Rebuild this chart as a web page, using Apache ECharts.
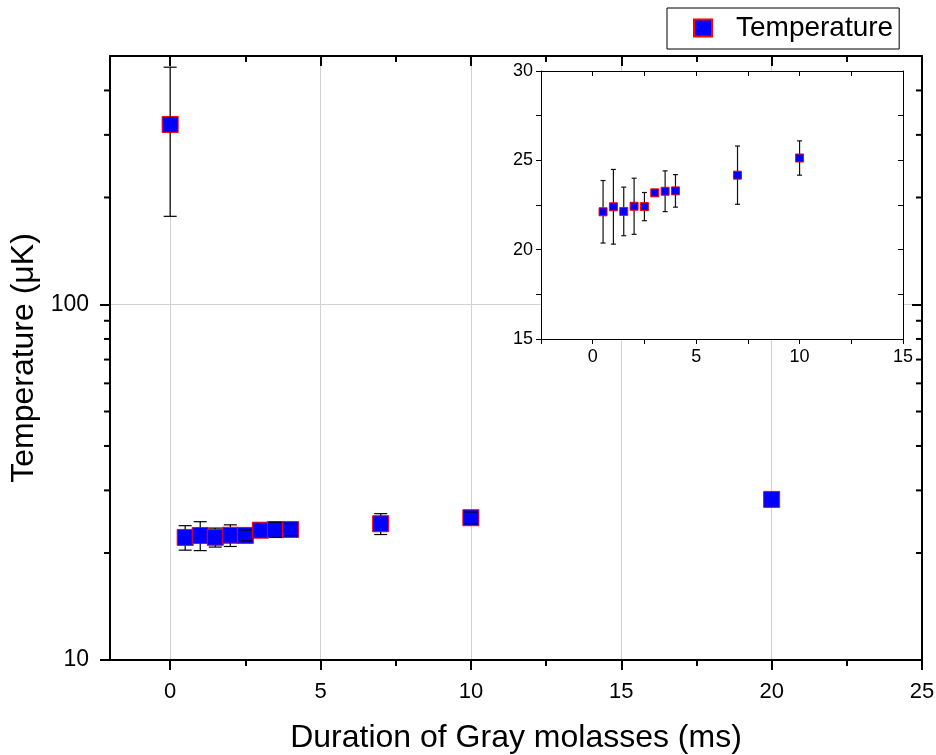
<!DOCTYPE html>
<html>
<head>
<meta charset="utf-8">
<script src="https://cdn.jsdelivr.net/npm/echarts@6/dist/echarts.min.js"></script>
<style>
  html, body { margin: 0; padding: 0; background: #fff; }
  #chart { width: 936px; height: 755px; }
</style>
</head>
<body>
<div id="chart"></div>
<script>
// ---- data ----
const DURATION_MS = [0, 0.5, 1, 1.5, 2, 2.5, 3, 3.5, 4, 7, 10, 20];
const TEMPERATURE_UK = [321, 22.12, 22.40, 22.14, 22.43, 22.41, 23.18, 23.27, 23.29, 24.17, 25.13, 28.3];
const TEMPERATURE_ERR = [144, 1.75, 2.09, 1.36, 1.57, 0.79, 0, 1.14, 0.91, 1.63, 0.96, 0];

// axis ranges and tick labels
const MAIN_X_RANGE = [-2, 25];
const MAIN_Y_RANGE = [10, 500];
const X_MAJOR_TICKS = [0, 5, 10, 15, 20, 25];
const X_MINOR_TICKS = [2.5, 7.5, 12.5, 17.5, 22.5];
const Y_MINOR_TICKS = [20, 30, 40, 50, 60, 70, 80, 90, 200, 300, 400];
const INSET_X_RANGE = [-2.5, 15];
const INSET_Y_RANGE = [15, 30];

const FONT = "'Liberation Sans', Arial, Helvetica, sans-serif";
const BLUE = '#0000ff';
const RED = '#ff0000';

const mainData = DURATION_MS.map((x, i) => [x, TEMPERATURE_UK[i], TEMPERATURE_ERR[i]]);
const insetData = mainData.filter(d => d[0] >= INSET_X_RANGE[0] && d[0] <= INSET_X_RANGE[1] &&
                                     d[1] >= INSET_Y_RANGE[0] && d[1] <= INSET_Y_RANGE[1]);

function errorBarRenderer(capHalf, markerHalf, color) {
  return function (params, api) {
    const x = api.value(0), y = api.value(1), e = api.value(2);
    if (!e) return { type: 'group', children: [] };
    const c = api.coord([x, y]);
    const hi = api.coord([x, y + e]);
    const lo = api.coord([x, y - e]);
    const style = { stroke: color, lineWidth: 1.2 };
    const children = [];
    if (hi[1] < c[1] - markerHalf) {
      children.push({ type: 'line', shape: { x1: c[0], y1: hi[1], x2: c[0], y2: c[1] - markerHalf }, style });
    }
    if (lo[1] > c[1] + markerHalf) {
      children.push({ type: 'line', shape: { x1: c[0], y1: c[1] + markerHalf, x2: c[0], y2: lo[1] }, style });
    }
    children.push({ type: 'line', shape: { x1: c[0] - capHalf, y1: hi[1], x2: c[0] + capHalf, y2: hi[1] }, style });
    children.push({ type: 'line', shape: { x1: c[0] - capHalf, y1: lo[1], x2: c[0] + capHalf, y2: lo[1] }, style });
    return { type: 'group', children };
  };
}

// minor ticks on log axis (left outward, right inward)
function logMinorTickRenderer(params, api) {
  const v = api.value(1);
  const pl = api.coord([MAIN_X_RANGE[0], v]);
  const pr = api.coord([MAIN_X_RANGE[1], v]);
  const style = { stroke: '#000', lineWidth: 2 };
  return {
    type: 'group',
    children: [
      { type: 'line', shape: { x1: pl[0] - 6, y1: pl[1], x2: pl[0], y2: pl[1] }, style },
      { type: 'line', shape: { x1: pr[0] - 6, y1: pr[1], x2: pr[0], y2: pr[1] }, style }
    ]
  };
}

const mainAxisLine = { show: true, onZero: false, lineStyle: { color: '#000', width: 2 } };
const insetAxisLine = { show: true, onZero: false, lineStyle: { color: '#000', width: 1 } };

const option = {
  animation: false,
  backgroundColor: '#fff',
  textStyle: { fontFamily: FONT, color: '#000' },
  legend: {
    data: ['Temperature'],
    left: 667, top: 8,
    borderColor: '#000', borderWidth: 1, borderRadius: 0,
    padding: [6, 6, 7, 26],
    itemWidth: 18, itemHeight: 17,
    icon: 'rect',
    textStyle: { fontSize: 28, fontFamily: FONT, color: '#000', padding: [0, 0, 0, 19] }
  },
  grid: [
    { left: 110, right: 14, top: 56, bottom: 95, containLabel: false, outerBoundsMode: 'none' },
    { left: 541, top: 71, width: 362, height: 268, show: true, backgroundColor: '#fff', borderWidth: 0, z: 3,
      containLabel: false, outerBoundsMode: 'none' }
  ],
  xAxis: [
    { // main bottom major
      gridIndex: 0, type: 'value', position: 'bottom', min: MAIN_X_RANGE[0], max: MAIN_X_RANGE[1],
      axisLine: mainAxisLine,
      axisTick: { show: true, customValues: X_MAJOR_TICKS, length: 10, lineStyle: { color: '#000', width: 2 } },
      axisLabel: { customValues: X_MAJOR_TICKS, fontSize: 22, margin: 21, color: '#000', fontFamily: FONT },
      splitLine: { show: true, lineStyle: { color: '#d0d0d0', width: 1 } },
      name: 'Duration of Gray molasses (ms)', nameLocation: 'middle', nameGap: 62,
      nameTextStyle: { fontSize: 32, fontFamily: FONT, color: '#000' }
    },
    { // main bottom minor
      gridIndex: 0, type: 'value', position: 'bottom', min: MAIN_X_RANGE[0], max: MAIN_X_RANGE[1],
      axisLine: { show: false },
      axisTick: { show: true, customValues: X_MINOR_TICKS, length: 6, lineStyle: { color: '#000', width: 2 } },
      axisLabel: { show: false }, splitLine: { show: false }
    },
    { // main top major
      gridIndex: 0, type: 'value', position: 'top', min: MAIN_X_RANGE[0], max: MAIN_X_RANGE[1],
      axisLine: mainAxisLine,
      axisTick: { show: true, inside: true, customValues: X_MAJOR_TICKS, length: 10, lineStyle: { color: '#000', width: 2 } },
      axisLabel: { show: false }, splitLine: { show: false }
    },
    { // main top minor
      gridIndex: 0, type: 'value', position: 'top', min: MAIN_X_RANGE[0], max: MAIN_X_RANGE[1],
      axisLine: { show: false },
      axisTick: { show: true, inside: true, customValues: X_MINOR_TICKS, length: 6, lineStyle: { color: '#000', width: 2 } },
      axisLabel: { show: false }, splitLine: { show: false }
    },
    { // inset bottom
      gridIndex: 1, type: 'value', position: 'bottom', min: INSET_X_RANGE[0], max: INSET_X_RANGE[1], interval: 2.5,
      z: 4,
      axisLine: insetAxisLine,
      axisTick: { show: true, length: 5, lineStyle: { color: '#000', width: 1 } },
      axisLabel: { fontSize: 18, margin: 9, color: '#000', fontFamily: FONT,
                   formatter: v => (v % 5 === 0 ? String(v) : '') },
      splitLine: { show: false }
    },
    { // inset top
      gridIndex: 1, type: 'value', position: 'top', min: INSET_X_RANGE[0], max: INSET_X_RANGE[1], interval: 2.5,
      z: 4,
      axisLine: insetAxisLine,
      axisTick: { show: true, inside: true, length: 5, lineStyle: { color: '#000', width: 1 } },
      axisLabel: { show: false }, splitLine: { show: false }
    }
  ],
  yAxis: [
    { // main left log
      gridIndex: 0, type: 'log', logBase: 10, position: 'left', min: MAIN_Y_RANGE[0], max: MAIN_Y_RANGE[1],
      axisLine: mainAxisLine,
      axisTick: { show: true, length: 10, lineStyle: { color: '#000', width: 2 } },
      axisLabel: { fontSize: 23, margin: 21, color: '#000', fontFamily: FONT, showMaxLabel: false,
                   formatter: v => (v === 10 || v === 100 ? String(v) : '') },
      splitLine: { show: true, lineStyle: { color: '#d0d0d0', width: 1 } },
      minorTick: { show: false },
      name: 'Temperature (\u03bcK)', nameLocation: 'middle', nameGap: 66, nameRotate: 90,
      nameTextStyle: { fontSize: 32, fontFamily: FONT, color: '#000' }
    },
    { // main right log
      gridIndex: 0, type: 'log', logBase: 10, position: 'right', min: MAIN_Y_RANGE[0], max: MAIN_Y_RANGE[1],
      axisLine: mainAxisLine,
      axisTick: { show: true, inside: true, length: 10, lineStyle: { color: '#000', width: 2 } },
      axisLabel: { show: false }, splitLine: { show: false }
    },
    { // inset left
      gridIndex: 1, type: 'value', position: 'left', min: INSET_Y_RANGE[0], max: INSET_Y_RANGE[1], interval: 2.5,
      z: 4,
      axisLine: insetAxisLine,
      axisTick: { show: true, length: 5, lineStyle: { color: '#000', width: 1 } },
      axisLabel: { fontSize: 18, margin: 8, color: '#000', fontFamily: FONT,
                   formatter: v => (v % 5 === 0 ? String(v) : '') },
      splitLine: { show: false }
    },
    { // inset right
      gridIndex: 1, type: 'value', position: 'right', min: INSET_Y_RANGE[0], max: INSET_Y_RANGE[1], interval: 2.5,
      z: 4,
      axisLine: insetAxisLine,
      axisTick: { show: true, inside: true, length: 5, lineStyle: { color: '#000', width: 1 } },
      axisLabel: { show: false }, splitLine: { show: false }
    }
  ],
  series: [
    {
      name: 'Temperature', type: 'scatter', xAxisIndex: 0, yAxisIndex: 0,
      data: mainData.map(d => [d[0], d[1]]),
      symbol: 'rect', symbolSize: 16,
      itemStyle: { color: BLUE, borderColor: RED, borderWidth: 1, opacity: 1 },
      z: 2
    },
    {
      name: 'mainErr', type: 'custom', xAxisIndex: 0, yAxisIndex: 0,
      data: mainData, encode: { x: 0, y: 1 },
      renderItem: errorBarRenderer(6.5, 8, '#000'), clip: false, z: 3, silent: true
    },
    {
      name: 'logMinorTicks', type: 'custom', xAxisIndex: 0, yAxisIndex: 0,
      data: Y_MINOR_TICKS.map(v => [MAIN_X_RANGE[0], v]), encode: { x: 0, y: 1 },
      renderItem: logMinorTickRenderer, clip: false, z: 3, silent: true
    },
    {
      name: 'insetErr', type: 'custom', xAxisIndex: 4, yAxisIndex: 2,
      data: insetData, encode: { x: 0, y: 1 },
      renderItem: errorBarRenderer(2.5, 0, '#111'), clip: true, z: 5, silent: true
    },
    {
      name: 'insetPoints', type: 'scatter', xAxisIndex: 4, yAxisIndex: 2,
      data: insetData.map(d => [d[0], d[1]]),
      symbol: 'rect', symbolSize: 8,
      itemStyle: { color: BLUE, borderColor: RED, borderWidth: 1, opacity: 1 },
      z: 6
    }
  ]
};

const chart = echarts.init(document.getElementById('chart'), null, { renderer: 'canvas' });
chart.setOption(option);
</script>
</body>
</html>
